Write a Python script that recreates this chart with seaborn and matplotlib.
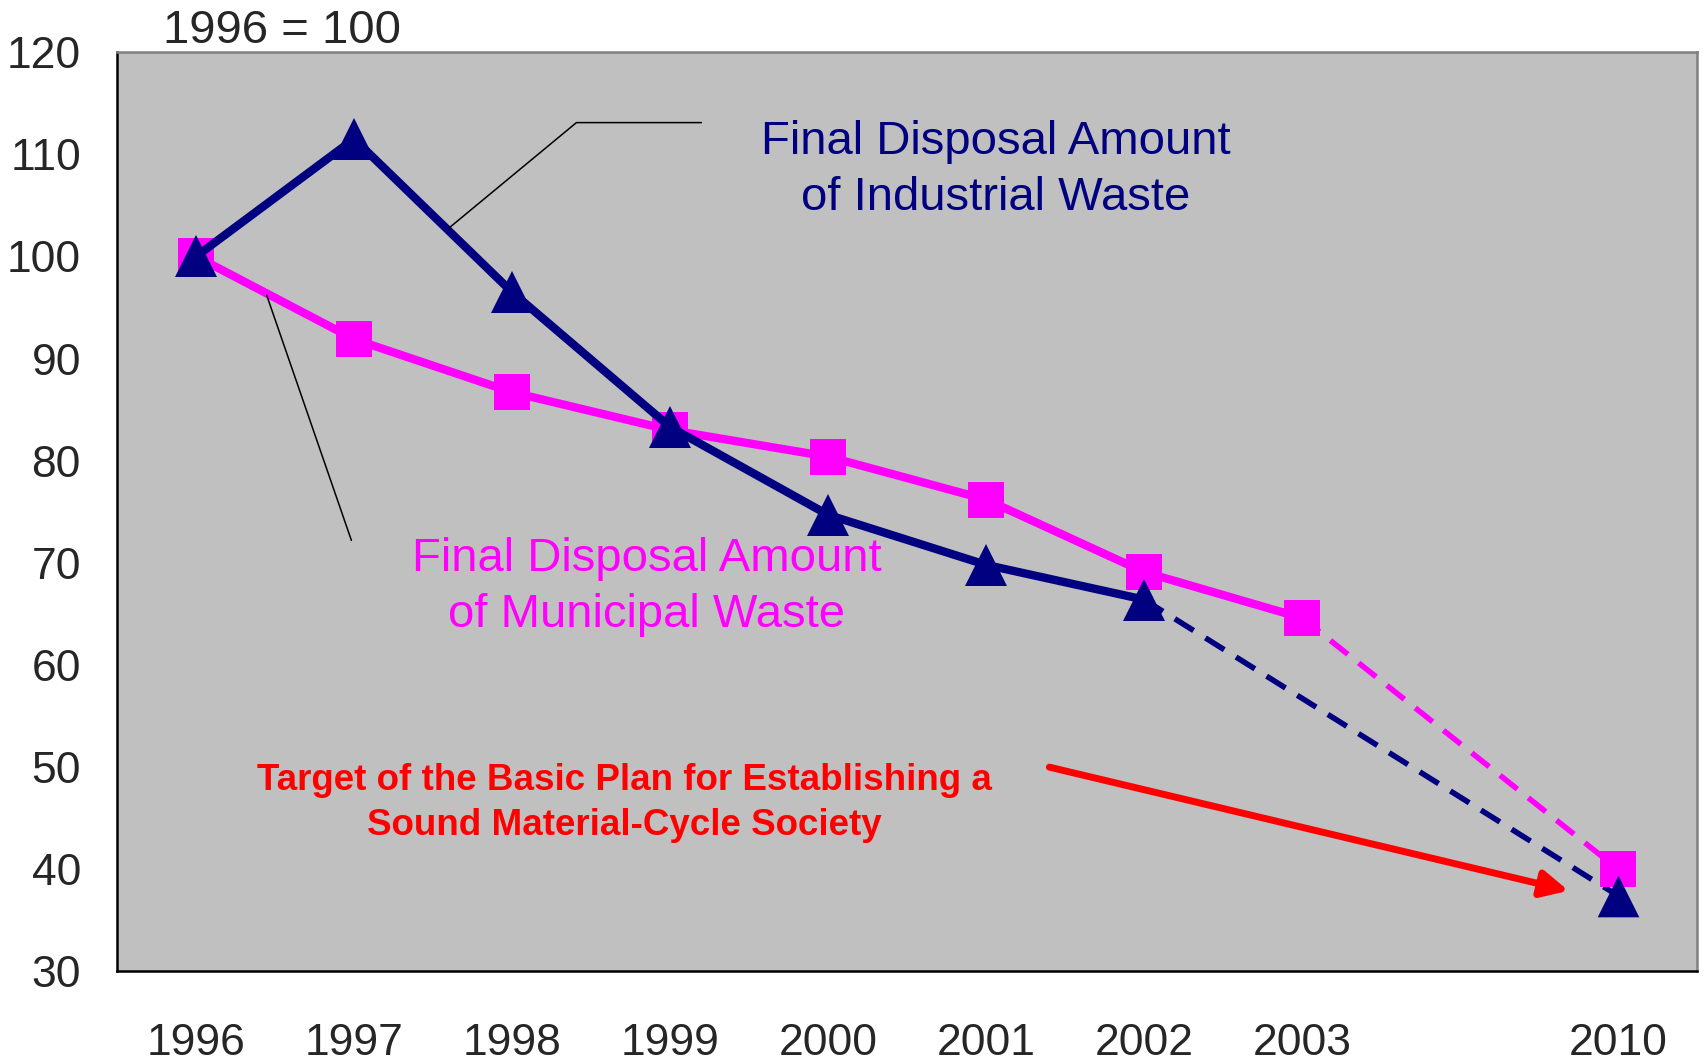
import matplotlib
matplotlib.use("Agg")
import matplotlib.pyplot as plt
import seaborn as sns
import pandas as pd

# Data (index 1996 = 100)
slot_labels = ['1996', '1997', '1998', '1999', '2000', '2001', '2002', '2003', '', '2010']
years_actual = ['1996', '1997', '1998', '1999', '2000', '2001', '2002', '2003']
municipal = [100, 91.9, 86.7, 83.0, 80.4, 76.2, 69.1, 64.6]
industrial = [100, 111.5, 96.5, 83.3, 74.7, 69.8, 66.4]
target_year = '2010'
municipal_target = 40.0
industrial_target = 37.4

NAVY = '#000080'
MAGENTA = '#FF00FF'
GRAY_BG = '#C0C0C0'

sns.set_style('white')
plt.rcParams['font.family'] = ['Liberation Sans', 'DejaVu Sans']

pos = {lab: i for i, lab in enumerate(slot_labels)}
mun_df = pd.DataFrame({'x': [pos[y] for y in years_actual], 'y': municipal})
ind_df = pd.DataFrame({'x': [pos[y] for y in years_actual[:len(industrial)]], 'y': industrial})

fig = plt.figure(figsize=(17.04, 10.64), dpi=100)
ax = fig.add_axes([0.0687, 0.087, 0.9273, 0.864])
ax.set_facecolor(GRAY_BG)

# dashed projections to 2010
dash_mun = pd.DataFrame({'x': [pos['2003'], pos[target_year]], 'y': [municipal[-1], municipal_target]})
dash_ind = pd.DataFrame({'x': [pos['2002'], pos[target_year]], 'y': [industrial[-1], industrial_target]})
sns.lineplot(data=dash_mun, x='x', y='y', color=MAGENTA, lw=4, linestyle=(0, (4, 2.5)), ax=ax)
sns.lineplot(data=dash_ind, x='x', y='y', color=NAVY, lw=4, linestyle=(0, (4, 2.5)), ax=ax)

# solid series
sns.lineplot(data=mun_df, x='x', y='y', color=MAGENTA, lw=6, marker='s', markersize=26,
             markeredgewidth=0, ax=ax)
sns.lineplot(data=ind_df, x='x', y='y', color=NAVY, lw=6, marker='^', markersize=30,
             markeredgewidth=0, ax=ax)

# 2010 targets
sns.scatterplot(x=[pos[target_year]], y=[municipal_target], color=MAGENTA, marker='s', s=26**2,
                linewidth=0, ax=ax, zorder=5)
sns.scatterplot(x=[pos[target_year]], y=[industrial_target], color=NAVY, marker='^', s=30**2,
                linewidth=0, ax=ax, zorder=6)

ax.set_xlim(-0.5, len(slot_labels) - 0.5)
ax.set_ylim(30, 120)
ax.set_xlabel('')
ax.set_ylabel('')

# axes ticks: boundaries as ticks, labels centred
ax.set_xticks([i + 0.5 for i in range(len(slot_labels) - 1)])
ax.set_xticklabels([])
ax.set_xticks(range(len(slot_labels)), minor=True)
ax.set_xticklabels(slot_labels, minor=True)
ax.tick_params(axis='x', which='major', direction='in', length=11, width=1.2, color='black')
ax.tick_params(axis='x', which='minor', length=0, pad=37, labelsize=32)
ax.set_yticks(range(30, 121, 10))
ax.tick_params(axis='y', direction='in', length=12, width=1.2, color='black', pad=26, labelsize=32)

for side in ['left', 'bottom']:
    ax.spines[side].set_color('black')
    ax.spines[side].set_linewidth(1.8)
for side in ['top', 'right']:
    ax.spines[side].set_color('#808080')
    ax.spines[side].set_linewidth(1.8)

# leader lines
ax.plot([3.198, 2.407, 1.602], [113.1, 113.1, 102.8], color='black', lw=1.1, zorder=4)
ax.plot([0.983, 0.447], [72.2, 96.2], color='black', lw=1.1, zorder=4)

ax.text(5.06, 108.5, 'Final Disposal Amount\nof Industrial Waste', color=NAVY, fontsize=34,
        ha='center', va='center', linespacing=1.35)
ax.text(2.85, 67.6, 'Final Disposal Amount\nof Municipal Waste', color=MAGENTA, fontsize=34,
        ha='center', va='center', linespacing=1.35)
ax.text(2.71, 46.5, 'Target of the Basic Plan for Establishing a\nSound Material-Cycle Society',
        color='red', fontsize=26.5, fontweight='bold', ha='center', va='center', linespacing=1.39)

ax.annotate('', xy=(8.686, 37.9), xytext=(5.40, 50.0),
            arrowprops=dict(arrowstyle='-|>', color='red', lw=5, mutation_scale=40,
                            shrinkA=0, shrinkB=0))

fig.text(163 / 1704, 1 - 31 / 1064, '1996 = 100', fontsize=34, ha='left', va='center')

fig.savefig('out.png', dpi=100)
